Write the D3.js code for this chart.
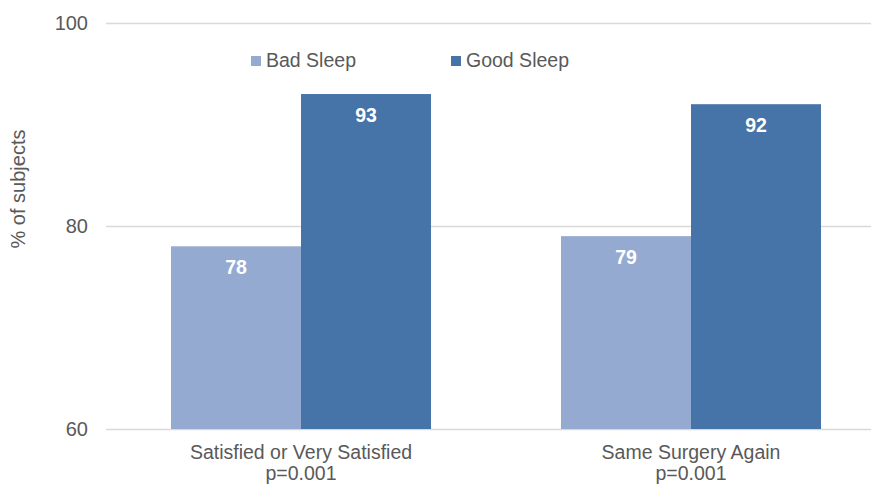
<!DOCTYPE html>
<html>
<head>
<meta charset="utf-8">
<script src="https://cdn.jsdelivr.net/npm/d3@7"></script>
<style>
  html, body { margin: 0; padding: 0; background: #fff; }
  text { font-family: "Liberation Sans", Arial, sans-serif; }
</style>
</head>
<body>
<svg id="chart" width="871" height="484"></svg>
<script>
// Outcome categories (two-line labels) and series values
const categories = ["Satisfied or Very Satisfied", "Same Surgery Again"];
const pValues = ["p=0.001", "p=0.001"];
const seriesNames = ["Bad Sleep", "Good Sleep"];
const badSleep = [78, 79];
const goodSleep = [93, 92];
const yTicks = [60, 80, 100];
const yTitle = "% of subjects";

const colors = { "Bad Sleep": "#95AAD0", "Good Sleep": "#4673A8" };

const svg = d3.select("#chart");
const W = 871;
const plot = { left: 106, top: 23, bottom: 429 };

const y = d3.scaleLinear().domain([60, 100]).range([plot.bottom, plot.top]);
const x = d3.scaleBand().domain(categories).range([plot.left, plot.left + 780]);
const bw = x.bandwidth();
const xs = d3.scaleBand().domain(seriesNames).range([bw / 6, bw * 5 / 6]);

const rows = categories.map((c, i) => ({
  cat: c,
  values: [
    { s: "Bad Sleep", v: badSleep[i] },
    { s: "Good Sleep", v: goodSleep[i] }
  ]
}));

// Horizontal gridlines
svg.append("g").selectAll("line").data(yTicks).join("line")
  .attr("x1", plot.left).attr("x2", W)
  .attr("y1", d => Math.round(y(d)) + 0.5).attr("y2", d => Math.round(y(d)) + 0.5)
  .attr("stroke", "#D9D9D9").attr("stroke-width", 1.3);

// Y tick labels
svg.append("g").selectAll("text").data(yTicks).join("text")
  .attr("x", 88).attr("y", d => y(d) + 7)
  .attr("text-anchor", "end")
  .attr("font-size", "20px").attr("fill", "#595959")
  .text(d => d);

// Y axis title
svg.append("text")
  .attr("transform", "translate(25,189) rotate(-90)")
  .attr("text-anchor", "middle")
  .attr("font-size", "20px").attr("fill", "#595959")
  .text(yTitle);

// Bars
const groups = svg.append("g").selectAll("g").data(rows).join("g")
  .attr("transform", d => `translate(${x(d.cat)},0)`);

groups.selectAll("rect").data(d => d.values).join("rect")
  .attr("x", d => xs(d.s)).attr("width", xs.bandwidth())
  .attr("y", d => y(d.v)).attr("height", d => y(60) - y(d.v))
  .attr("fill", d => colors[d.s]);

// Value labels inside bars
groups.selectAll("text").data(d => d.values).join("text")
  .attr("x", d => xs(d.s) + xs.bandwidth() / 2)
  .attr("y", d => y(d.v) + 28)
  .attr("text-anchor", "middle")
  .attr("font-size", "19.5px").attr("font-weight", "bold").attr("fill", "#fff")
  .text(d => d.v);

// Category labels
const catLabels = svg.append("g").selectAll("text").data(categories).join("text")
  .attr("x", d => x(d) + bw / 2)
  .attr("text-anchor", "middle")
  .attr("font-size", "19.5px").attr("fill", "#595959");
catLabels.append("tspan").attr("x", d => x(d) + bw / 2).attr("y", 459).text(d => d);
catLabels.append("tspan").attr("x", d => x(d) + bw / 2).attr("y", 480).text((d, i) => pValues[i]);

// Legend
const legendX = [251, 451];
const legend = svg.append("g").selectAll("g").data(seriesNames).join("g")
  .attr("transform", (d, i) => `translate(${legendX[i]},56)`);
legend.append("rect").attr("width", 10).attr("height", 10).attr("fill", d => colors[d]);
legend.append("text").attr("x", 15).attr("y", 11)
  .attr("font-size", "19.5px").attr("fill", "#595959")
  .text(d => d);
</script>
</body>
</html>
